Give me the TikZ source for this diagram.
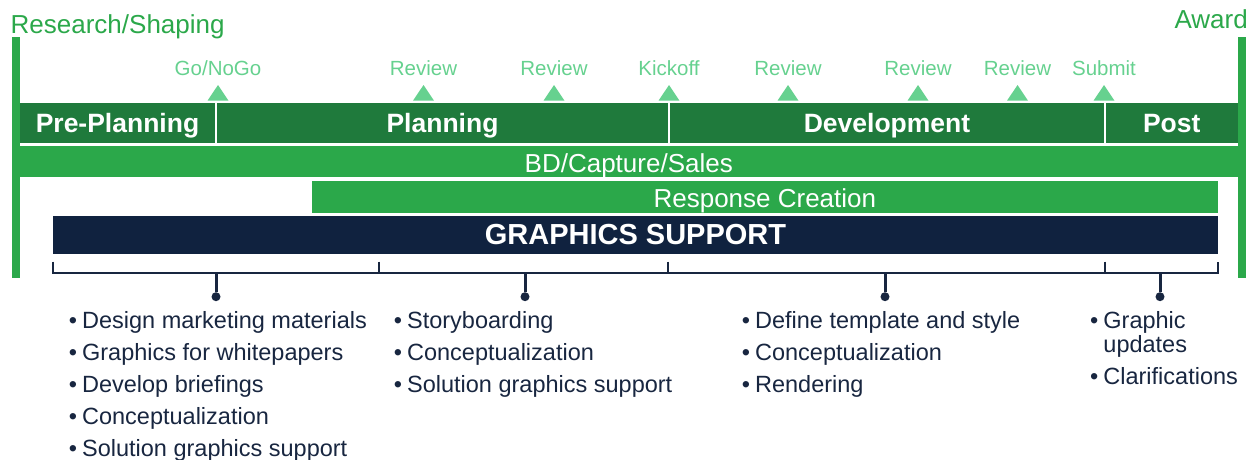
\documentclass[tikz,border=0pt]{standalone}
\usepackage{fontspec}
\setmainfont{Liberation Sans}
\usepackage{tikz}
\usetikzlibrary{positioning}
\usepackage{xcolor}
\definecolor{PhaseGreen}{RGB}{31,122,60}
\definecolor{SalesGreen}{RGB}{43,168,74}
\definecolor{MileGreen}{RGB}{102,209,143}
\definecolor{SupportNavy}{RGB}{16,34,63}
\definecolor{TextNavy}{RGB}{24,38,64}
\newcommand{\Bul}{\textbullet\hspace{5pt}}
\tikzstyle{PhaseBar}=[fill=PhaseGreen,text=white,inner sep=0pt,minimum height=40pt,
text height=19.2pt,text depth=0pt,font=\bfseries\fontsize{26.5}{26.5}\selectfont]
\tikzstyle{WideBar}=[fill=SalesGreen,text=white,inner sep=0pt,text height=20.6pt,
text depth=0pt,font=\fontsize{26}{26}\selectfont]
\tikzstyle{SupportBar}=[fill=SupportNavy,text=white,inner sep=0pt,minimum height=38.3pt,
text height=18.8pt,text depth=0pt,font=\bfseries\fontsize{29}{29}\selectfont]
\tikzstyle{MileMark}=[fill=MileGreen]
\tikzstyle{MileText}=[text=MileGreen,inner sep=0pt,text depth=0pt,font=\fontsize{20.5}{20.5}\selectfont]
\tikzstyle{StageText}=[text=SalesGreen,inner sep=0pt,font=\fontsize{26}{26}\selectfont]
\tikzstyle{BraceLine}=[TextNavy,line width=2pt]
\tikzstyle{StemLine}=[TextNavy,line width=3pt]
\tikzstyle{DotNode}=[circle,fill=TextNavy,inner sep=0pt,minimum size=9pt]
\tikzstyle{BulletList}=[anchor=north west,align=left,inner sep=0pt,text=TextNavy,
font=\fontsize{23.5}{32}\selectfont]

\begin{document}
\begin{tikzpicture}[x=1pt,y=-1pt]
    \useasboundingbox(0,0)rectangle(1253,459);
    \node[StageText,anchor=base west](research)at(10.5,33.3){Research/Shaping};
    \node[StageText,anchor=base east](award)at(1248,28.4){Award};
    \fill[SalesGreen](12,36.7)rectangle(20,278.3);
    \fill[SalesGreen](1237.5,36.7)rectangle(1245.5,278.3);
    \node[PhaseBar,minimum width=195pt](pre)at(117.5,122.7){Pre-Planning};
    \node[PhaseBar,minimum width=451pt](plan)at(442.5,122.7){Planning};
    \node[PhaseBar,minimum width=434pt](dev)at(887,122.7){Development};
    \node[PhaseBar,minimum width=131.5pt](post)at(1171.75,122.7){Post};
    \node[WideBar,minimum width=1217.5pt,minimum height=31.3pt](sales)at(628.75,161.7){BD/Capture/Sales};
    \node[WideBar,minimum width=906.3pt,minimum height=32pt](response)at(764.85,196.7){Response Creation};
    \node[SupportBar,minimum width=1165pt](support)at(635.5,235.15){GRAPHICS SUPPORT};
    \coordinate(mGo)at(218,100.7);
    \coordinate(mRevA)at(423.5,100.7);
    \coordinate(mRevB)at(554,100.7);
    \coordinate(mKick)at(669,100.7);
    \coordinate(mRevC)at(788,100.7);
    \coordinate(mRevD)at(918,100.7);
    \coordinate(mRevE)at(1017.5,100.7);
    \coordinate(mSub)at(1104,100.7);
    \fill[MileMark](mGo)++(-10.5,0)--++(10.5,-15.7)--++(10.5,15.7)--cycle;
    \fill[MileMark](mRevA)++(-10.5,0)--++(10.5,-15.7)--++(10.5,15.7)--cycle;
    \fill[MileMark](mRevB)++(-10.5,0)--++(10.5,-15.7)--++(10.5,15.7)--cycle;
    \fill[MileMark](mKick)++(-10.5,0)--++(10.5,-15.7)--++(10.5,15.7)--cycle;
    \fill[MileMark](mRevC)++(-10.5,0)--++(10.5,-15.7)--++(10.5,15.7)--cycle;
    \fill[MileMark](mRevD)++(-10.5,0)--++(10.5,-15.7)--++(10.5,15.7)--cycle;
    \fill[MileMark](mRevE)++(-10.5,0)--++(10.5,-15.7)--++(10.5,15.7)--cycle;
    \fill[MileMark](mSub)++(-10.5,0)--++(10.5,-15.7)--++(10.5,15.7)--cycle;
    \node[MileText,above=24.7pt of mGo](lGo){Go/NoGo};
    \node[MileText,above=24.7pt of mRevA](lRevA){Review};
    \node[MileText,above=24.7pt of mRevB](lRevB){Review};
    \node[MileText,above=24.7pt of mKick](lKick){Kickoff};
    \node[MileText,above=24.7pt of mRevC](lRevC){Review};
    \node[MileText,above=24.7pt of mRevD](lRevD){Review};
    \node[MileText,above=24.7pt of mRevE](lRevE){Review};
    \node[MileText,above=24.7pt of mSub](lSub){Submit};
    \coordinate(bL)at(53,261.7);
    \coordinate(bR)at(1217.5,261.7);
    \coordinate(kA)at(379,261.7);
    \coordinate(kB)at(667.5,261.7);
    \coordinate(kC)at(1104.5,261.7);
    \draw[BraceLine](bL)--++(0,11.6)-|(bR);
    \draw[BraceLine](kA)--++(0,11.6);
    \draw[BraceLine](kB)--++(0,11.6);
    \draw[BraceLine](kC)--++(0,11.6);
    \coordinate(sA)at(216,273.3);
    \coordinate(sB)at(525,273.3);
    \coordinate(sC)at(885,273.3);
    \coordinate(sD)at(1160,273.3);
    \node[DotNode](dA)at(216,296.7){};
    \node[DotNode](dB)at(525,296.7){};
    \node[DotNode](dC)at(885,296.7){};
    \node[DotNode](dD)at(1160,296.7){};
    \draw[StemLine](sA)--(dA);
    \draw[StemLine](sB)--(dB);
    \draw[StemLine](sC)--(dC);
    \draw[StemLine](sD)--(dD);
    \node[BulletList](listPre)at(68.7,311){\Bul Design marketing materials\\\Bul Graphics for whitepapers\\
        \Bul Develop briefings\\\Bul Conceptualization\\\Bul Solution graphics support};
    \node[BulletList](listPlan)at(393.7,311){\Bul Storyboarding\\\Bul Conceptualization\\
        \Bul Solution graphics support};
    \node[BulletList](listDev)at(741.7,311){\Bul Define template and style\\\Bul Conceptualization\\
        \Bul Rendering};
    \node[BulletList](listPost)at(1090,311){\Bul Graphic\\[-8pt]\hphantom{\Bul}updates\\\Bul Clarifications};
\end{tikzpicture}
\end{document}
